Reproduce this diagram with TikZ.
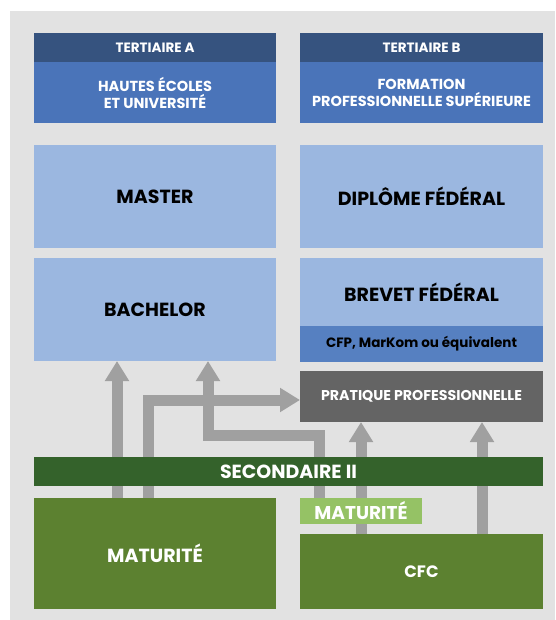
\documentclass[tikz,border=0pt]{standalone}
\usepackage{fontspec}
\setmainfont{Poppins}
\usetikzlibrary{arrows.meta}
\definecolor{bgc}{HTML}{E2E2E2}
\definecolor{hdr}{HTML}{36537F}
\definecolor{bodyb}{HTML}{4A74B9}
\definecolor{lightb}{HTML}{9BB7E0}
\definecolor{cfpb}{HTML}{5680C1}
\definecolor{pratc}{HTML}{646464}
\definecolor{darkg}{HTML}{34622B}
\definecolor{midg}{HTML}{5C8130}
\definecolor{lightg}{HTML}{95C265}
\definecolor{arrc}{HTML}{A0A0A0}
\pgfdeclarelayer{backdrop}
\pgfdeclarelayer{arrows}
\pgfsetlayers{backdrop,arrows,main}
\begin{document}
\begin{tikzpicture}[x=1pt,y=-1pt,
  box/.style={anchor=north west,inner sep=0pt,outer sep=0pt,align=center,font=\bfseries},
  wbox/.style={box,text=white},
  kbox/.style={box,text=black},
  hfont/.style={font=\bfseries\fontsize{13.5}{16}\selectfont},
  bfont/.style={font=\bfseries\fontsize{14.5}{17}\selectfont},
  bigfont/.style={font=\bfseries\fontsize{19}{22}\selectfont},
  arr/.style={draw=arrc,line width=11pt,line join=miter,-{Triangle[width=23pt,length=20pt]}}]
\useasboundingbox (0,0) rectangle (555,620);
\begin{pgfonlayer}{backdrop}
\fill[bgc] (10,11) rectangle (555,620);
\end{pgfonlayer}
% Tertiaire A
\node[wbox,fill=hdr,minimum width=242pt,minimum height=29pt,hfont] (tah) at (34,33) {TERTIAIRE A};
\node[wbox,fill=bodyb,minimum width=242pt,minimum height=61pt,bfont] (tab) at (34,62) {HAUTES ÉCOLES\\ET UNIVERSITÉ};
% Tertiaire B
\node[wbox,fill=hdr,minimum width=243pt,minimum height=29pt,hfont] (tbh) at (300,33) {TERTIAIRE B};
\node[wbox,fill=bodyb,minimum width=243pt,minimum height=61pt,bfont] (tbb) at (300,62) {FORMATION\\PROFESSIONNELLE SUPÉRIEURE};
% Master / Diplome
\node[kbox,fill=lightb,minimum width=242pt,minimum height=103pt,bigfont] (master) at (34,145) {MASTER};
\node[kbox,fill=lightb,minimum width=243pt,minimum height=103pt,bigfont] (dipl) at (300,145) {DIPLÔME FÉDÉRAL};
% Bachelor / Brevet
\node[kbox,fill=lightb,minimum width=242pt,minimum height=103pt,bigfont] (bach) at (34,258) {BACHELOR};
\node[kbox,fill=lightb,minimum width=243pt,minimum height=68pt,bigfont] (brev) at (300,258) {BREVET FÉDÉRAL};
\node[kbox,fill=cfpb,minimum width=243pt,minimum height=36pt,font=\bfseries\fontsize{13.5}{16}\selectfont] (cfp) at (300,326) {CFP, MarKom ou équivalent};
% Pratique
\node[wbox,fill=pratc,minimum width=243pt,minimum height=51pt,font=\bfseries\fontsize{14.2}{16}\selectfont] (prat) at (300,371) {PRATIQUE PROFESSIONNELLE};
% Secondaire II
\node[wbox,fill=darkg,minimum width=509pt,minimum height=29pt,bigfont] (sec) at (34,457) {SECONDAIRE II};
% Maturite / CFC
\node[wbox,fill=midg,minimum width=242pt,minimum height=111pt,bigfont] (mat) at (34,498) {MATURITÉ};
\node[wbox,fill=lightg,minimum width=122pt,minimum height=26pt,font=\bfseries\fontsize{18.5}{20}\selectfont] (matl) at (300,498) {MATURITÉ};
\node[wbox,fill=midg,minimum width=243pt,minimum height=75pt,font=\bfseries\fontsize{16.5}{20}\selectfont] (cfc) at (300,534) {CFC};
% arrows
\coordinate (xa) at (117,0);
\coordinate (xb) at (148,0);
\coordinate (xc) at (208,0);
\coordinate (xd) at (319,0);
\coordinate (xe) at (361,0);
\coordinate (xf) at (482,0);
\coordinate (ylow) at (0,435);
\begin{pgfonlayer}{arrows}
\draw[arr] (xa |- mat.north) -- (xa |- bach.south);
\draw[arr] (xb |- mat.north) |- ([yshift=-3.5pt]prat.west);
\draw[arr] (xd |- matl.north) -- (xd |- ylow) -- (xc |- ylow) -- (xc |- bach.south);
\draw[arr] (xe |- cfc.north) -- (xe |- prat.south);
\draw[arr] (xf |- cfc.north) -- (xf |- prat.south);
\end{pgfonlayer}
\end{tikzpicture}
\end{document}
